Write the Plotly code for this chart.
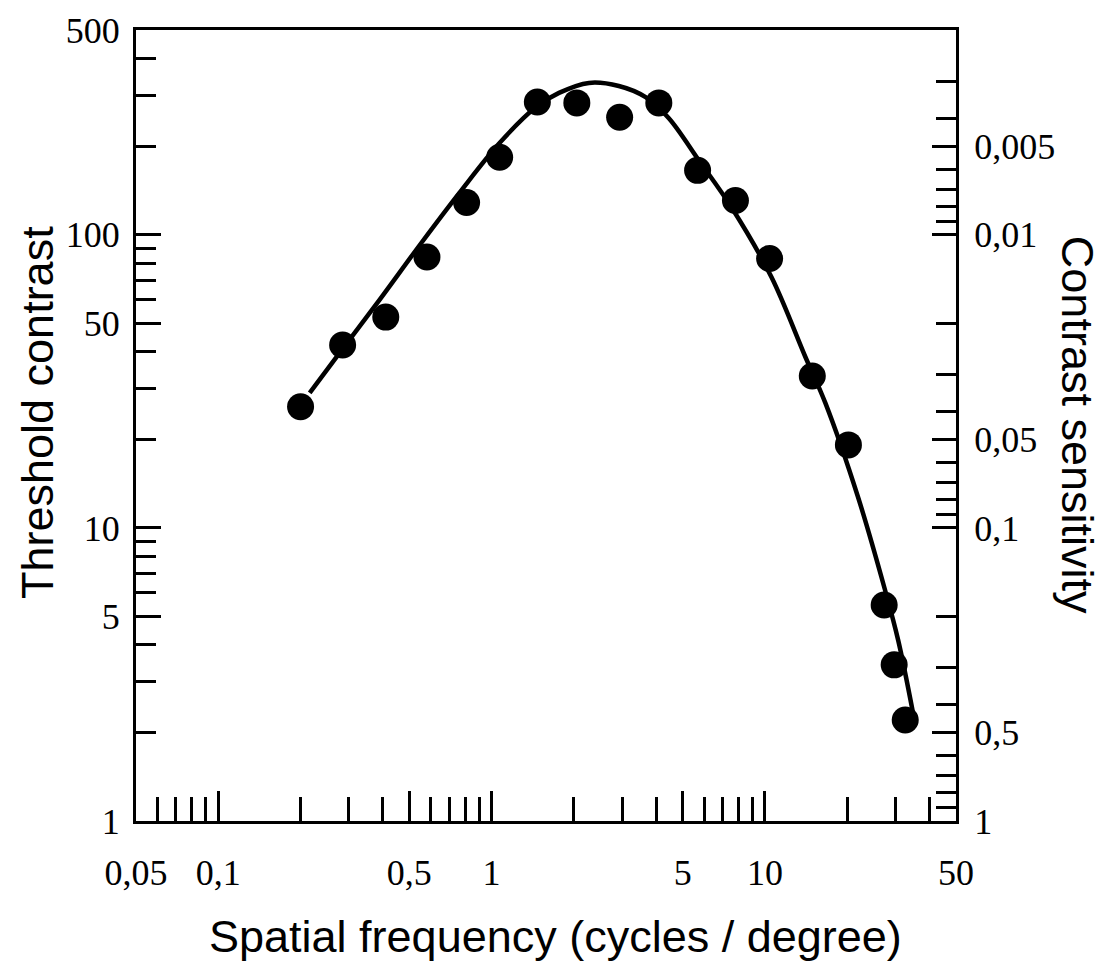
import plotly.graph_objects as go

# Measured data points (spatial frequency in cycles/degree, threshold contrast)
freq = [0.20, 0.285, 0.41, 0.58, 0.81, 1.07, 1.47, 2.05, 2.94, 4.09, 5.67, 7.8, 10.4, 14.9, 20.2, 27.3, 29.7, 32.6]
threshold = [25.9, 42.1, 52.4, 84, 129, 184, 284, 282, 252, 282, 166, 131, 83, 33, 19.2, 5.46, 3.41, 2.21]

# Fitted curve
curve_freq = [0.216, 0.285, 0.389, 0.553, 0.761, 1.065, 1.454, 1.764, 2.27, 2.92, 3.66, 4.45,
              5.72, 7.55, 10.56, 14.06, 16.63, 21.9, 27.5, 30.7, 34.8]
curve_thr = [28.9, 40.8, 60.0, 93.8, 138.8, 205, 273, 305, 330, 322, 295, 250,
             180, 124, 71.8, 38.3, 26.7, 12.75, 6.14, 4.15, 2.34]

# Tick labels
x_major = [0.05, 0.1, 0.5, 1, 5, 10, 50]
x_major_text = ["0,05", "0,1", "0,5", "1", "5", "10", "50"]
x_minor = [0.06, 0.07, 0.08, 0.09, 0.2, 0.3, 0.4, 0.6, 0.7, 0.8, 0.9,
           2, 3, 4, 6, 7, 8, 9, 20, 30, 40]
y_major = [1, 5, 10, 50, 100, 500]
y_major_text = ["1", "5", "10", "50", "100", "500"]
y_minor = [2, 3, 4, 6, 7, 8, 9, 20, 30, 40, 60, 70, 80, 90, 200, 300, 400]
s_major = [0.005, 0.01, 0.05, 0.1, 0.5, 1]
s_major_text = ["0,005", "0,01", "0,05", "0,1", "0,5", "1"]
s_minor = [0.002, 0.003, 0.004, 0.006, 0.007, 0.008, 0.009, 0.02, 0.03, 0.04,
           0.06, 0.07, 0.08, 0.09, 0.2, 0.3, 0.4, 0.6, 0.7, 0.8, 0.9]

SERIF = "Liberation Serif"
SANS = "Liberation Sans"

fig = go.Figure()
fig.add_trace(go.Scatter(x=curve_freq, y=curve_thr, mode="lines",
                         line=dict(color="black", width=4.5, shape="spline", smoothing=1.0),
                         showlegend=False, hoverinfo="skip"))
fig.add_trace(go.Scatter(x=freq, y=threshold, mode="markers",
                         marker=dict(color="black", size=27, line=dict(width=0)),
                         showlegend=False))
# dummy trace to activate the right-hand axis
fig.add_trace(go.Scatter(x=[], y=[], yaxis="y2", showlegend=False, hoverinfo="skip"))

fig.update_layout(
    width=1102, height=963,
    margin=dict(l=136, r=146, t=30, b=142),
    paper_bgcolor="white", plot_bgcolor="white",
    xaxis=dict(type="log", range=[-1.30103, 1.69897],
               tickmode="array", tickvals=x_major, ticktext=x_major_text,
               ticks="inside", ticklen=30, tickwidth=3, tickcolor="black",
               minor=dict(tickmode="array", tickvals=x_minor, ticks="inside",
                          ticklen=24, tickwidth=3, tickcolor="black", showgrid=False),
               showline=True, linecolor="black", linewidth=3, mirror=True,
               showgrid=False, zeroline=False,
               tickfont=dict(family=SERIF, size=36, color="black"),
               ticklabelstandoff=18),
    yaxis=dict(type="log", range=[0, 2.69897],
               tickmode="array", tickvals=y_major, ticktext=y_major_text,
               ticks="inside", ticklen=25, tickwidth=3, tickcolor="black",
               minor=dict(tickmode="array", tickvals=y_minor, ticks="inside",
                          ticklen=20, tickwidth=3, tickcolor="black", showgrid=False),
               showline=True, linecolor="black", linewidth=3, mirror=True,
               showgrid=False, zeroline=False,
               tickfont=dict(family=SERIF, size=36, color="black"),
               ticklabelstandoff=6),
    yaxis2=dict(type="log", range=[0, -2.69897], overlaying="y", side="right",
                tickmode="array", tickvals=s_major, ticktext=s_major_text,
                ticks="inside", ticklen=24, tickwidth=3, tickcolor="black",
                minor=dict(tickmode="array", tickvals=s_minor, ticks="inside",
                           ticklen=20, tickwidth=3, tickcolor="black", showgrid=False),
                showline=True, linecolor="black", linewidth=3,
                showgrid=False, zeroline=False,
                tickfont=dict(family=SERIF, size=36, color="black"),
                ticklabelstandoff=8),
    annotations=[
        dict(text="Spatial frequency (cycles / degree)", xref="paper", yref="paper",
             x=0.511, y=-0.1454, xanchor="center", yanchor="middle", showarrow=False,
             font=dict(family=SANS, size=45, color="black")),
        dict(text="Threshold contrast", xref="paper", yref="paper",
             x=-0.1207, y=0.5158, xanchor="center", yanchor="middle", showarrow=False,
             textangle=-90, font=dict(family=SANS, size=45, color="black")),
        dict(text="Contrast sensitivity", xref="paper", yref="paper",
             x=1.149, y=0.5006, xanchor="center", yanchor="middle", showarrow=False,
             textangle=90, font=dict(family=SANS, size=45, color="black")),
    ],
)

fig.write_html("out.html", config={"displayModeBar": False},
               post_script="document.body.style.margin='0';")
